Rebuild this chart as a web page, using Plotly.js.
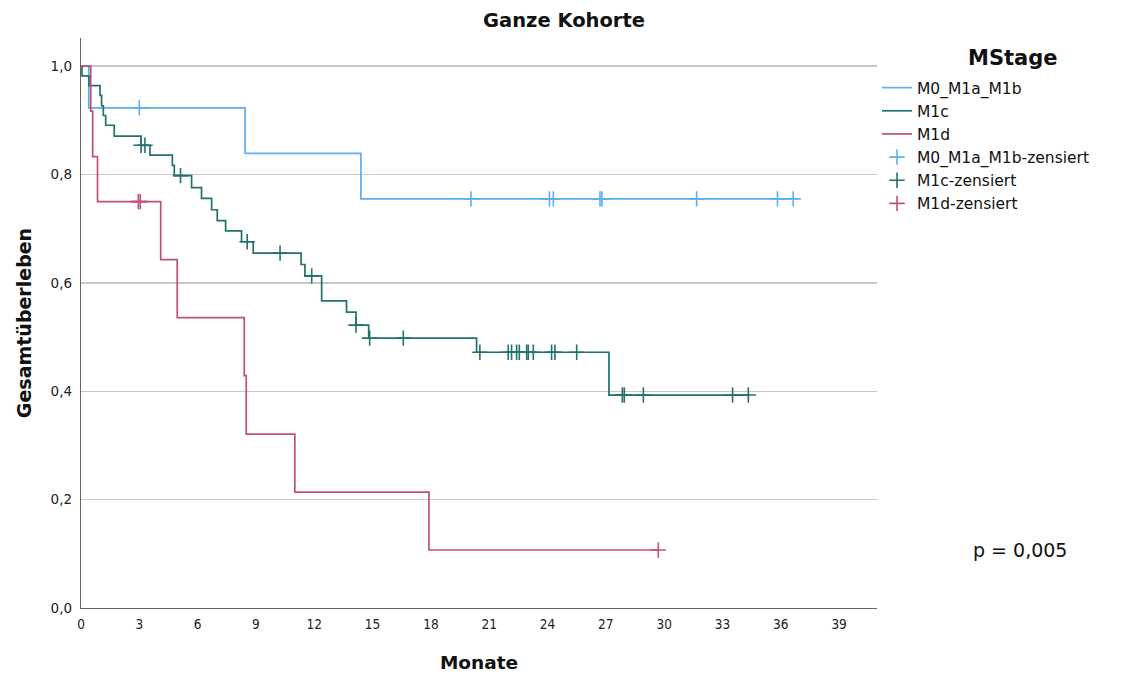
<!DOCTYPE html>
<html>
<head>
<meta charset="utf-8">
<script src="https://cdn.plot.ly/plotly-3.0.1.min.js"></script>
<style>html,body{margin:0;padding:0;background:#fff;}#chart{width:1128px;height:675px;}</style>
</head>
<body>
<div id="chart"></div>
<script>
// Kaplan-Meier step data (months, survival)
var m0Time = [0, 0.4, 8.44, 14.4, 36.8];
var m0Surv = [1.0, 0.923, 0.839, 0.755, 0.755];
var m0CensTime = [3.0, 20.06, 24.1, 24.3, 26.7, 26.8, 31.67, 35.83, 36.64];
var m0CensSurv = [0.923, 0.755, 0.755, 0.755, 0.755, 0.755, 0.755, 0.755, 0.755];

var m1cTime = [0, 0.05, 0.41, 0.98, 1.06, 1.15, 1.27, 1.71, 3.09, 3.55, 4.7, 4.8, 5.69, 6.2, 6.72, 7.01, 7.44, 8.26, 8.86, 11.32, 11.52, 12.38, 13.66, 14.15, 14.8, 20.35, 27.16, 34.4];
var m1cSurv = [1.0, 0.982, 0.964, 0.946, 0.927, 0.909, 0.891, 0.871, 0.854, 0.836, 0.817, 0.798, 0.776, 0.756, 0.735, 0.715, 0.696, 0.676, 0.655, 0.634, 0.613, 0.567, 0.546, 0.522, 0.498, 0.472, 0.393, 0.393];
var m1cCensTime = [3.09, 3.29, 5.12, 8.55, 10.24, 11.87, 14.15, 14.85, 16.58, 20.52, 21.98, 22.15, 22.41, 22.55, 22.93, 23.01, 23.27, 24.21, 24.38, 25.5, 27.85, 27.95, 28.93, 33.52, 34.33];
var m1cCensSurv = [0.854, 0.854, 0.798, 0.676, 0.655, 0.613, 0.522, 0.498, 0.498, 0.472, 0.472, 0.472, 0.472, 0.472, 0.472, 0.472, 0.472, 0.472, 0.472, 0.472, 0.393, 0.393, 0.393, 0.393, 0.393];

var m1dTime = [0, 0.5, 0.6, 0.85, 4.1, 4.95, 8.4, 8.5, 11.0, 17.9, 29.7];
var m1dSurv = [1.0, 0.917, 0.833, 0.75, 0.643, 0.536, 0.429, 0.321, 0.214, 0.107, 0.107];
var m1dCensTime = [2.95, 3.05, 29.7];
var m1dCensSurv = [0.75, 0.75, 0.107];

var seriesNames = ["M0_M1a_M1b", "M1c", "M1d"];
var legendTitle = "MStage";
var pText = "p = 0,005";
var colBlue = "#5ab0ee", colTeal = "#22716e", colPink = "#c14f7e";

function stepTrace(x, y, name, color) {
  return {x: x, y: y, name: name, type: "scatter", mode: "lines",
    line: {shape: "hv", color: color, width: 1.7}, hoverinfo: "skip"};
}
function censTrace(x, y, name, color) {
  return {x: x, y: y, name: name, type: "scatter", mode: "markers",
    marker: {symbol: "cross-thin", size: 11, color: color, line: {color: color, width: 1.6}}, hoverinfo: "skip"};
}

var data = [
  stepTrace(m0Time, m0Surv, seriesNames[0], colBlue),
  stepTrace(m1cTime, m1cSurv, seriesNames[1], colTeal),
  stepTrace(m1dTime, m1dSurv, seriesNames[2], colPink),
  censTrace(m0CensTime, m0CensSurv, seriesNames[0] + "-zensiert", colBlue),
  censTrace(m1cCensTime, m1cCensSurv, seriesNames[1] + "-zensiert", colTeal),
  censTrace(m1dCensTime, m1dCensSurv, seriesNames[2] + "-zensiert", colPink)
];

var layout = {
  width: 1128, height: 675,
  paper_bgcolor: "#fff", plot_bgcolor: "#fff",
  separators: ",.",
  margin: {l: 81, r: 251, t: 38, b: 67},
  font: {family: "DejaVu Sans, sans-serif", color: "#222"},
  title: {text: "Ganze Kohorte", x: 0.5, xref: "container", y: 0.97, yanchor: "middle",
    font: {family: "DejaVu Sans, sans-serif", size: 19.5, color: "#111", weight: "bold"}},
  xaxis: {range: [0, 40.95], tick0: 0, dtick: 3, showgrid: false, zeroline: false,
    showline: true, linecolor: "#666", linewidth: 1.2, ticks: "", ticklen: 0, ticklabelstandoff: 4,
    tickfont: {family: "DejaVu Sans Condensed, DejaVu Sans, sans-serif", size: 13.5, color: "#222"},
    title: {text: "Monate", standoff: 24, font: {family: "DejaVu Sans, sans-serif", size: 18.5, color: "#111", weight: "bold"}},
    fixedrange: true},
  yaxis: {range: [0, 1.052], tick0: 0, dtick: 0.2, tickformat: ".1f", showgrid: true,
    gridcolor: "#c8c8c8", gridwidth: 1.5, zeroline: false,
    showline: true, linecolor: "#666", linewidth: 1.2, ticks: "", ticklabelstandoff: 5,
    tickfont: {family: "DejaVu Sans, sans-serif", size: 13.5, color: "#222"},
    title: {text: "Gesamtüberleben", standoff: 14, font: {family: "DejaVu Sans, sans-serif", size: 19, color: "#111", weight: "bold"}},
    fixedrange: true},
  showlegend: true,
  legend: {x: 1.0, xanchor: "left", y: 0.942, yanchor: "top", traceorder: "normal",
    bgcolor: "rgba(0,0,0,0)", itemwidth: 30, tracegroupgap: 0,
    font: {family: "DejaVu Sans, sans-serif", size: 15.5, color: "#111"}},
  annotations: [
    {text: legendTitle, xref: "paper", yref: "paper", x: 1.171, y: 0.965,
      xanchor: "center", yanchor: "middle", showarrow: false,
      font: {family: "DejaVu Sans, sans-serif", size: 21, color: "#111", weight: "bold"}},
    {text: pText, xref: "paper", yref: "y", x: 1.18, y: 0.107,
      xanchor: "center", yanchor: "middle", showarrow: false,
      font: {family: "DejaVu Sans, sans-serif", size: 19, color: "#111"}}]
};

Plotly.newPlot("chart", data, layout, {displayModeBar: false, staticPlot: true});
</script>
</body>
</html>
